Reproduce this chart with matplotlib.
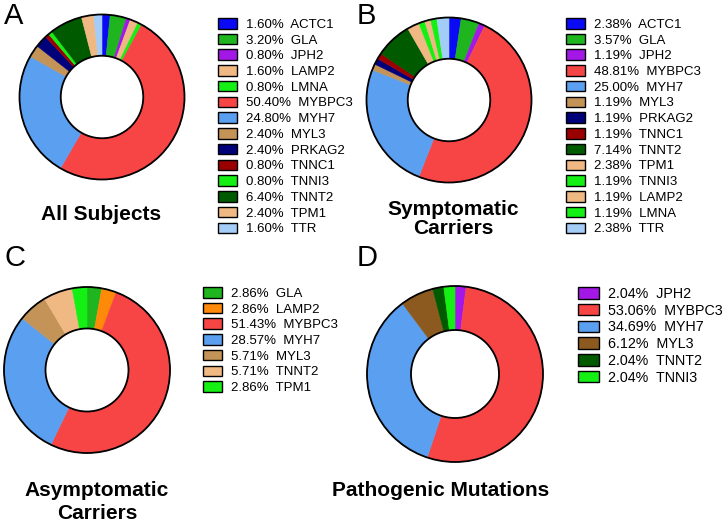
import matplotlib
matplotlib.use('Agg')
import matplotlib.pyplot as plt
from matplotlib.patches import Circle, Patch

plt.rcParams['font.family'] = ['Liberation Sans', 'DejaVu Sans']

W, H = 726, 524

# colours per gene
geneColor = {
    'ACTC1': '#0a0af5',
    'GLA': '#1fb51f',
    'JPH2': '#a318e6',
    'LAMP2': '#f0b882',
    'LMNA': '#14f014',
    'MYBPC3': '#f74545',
    'MYH7': '#5a9ff0',
    'MYL3': '#c49358',
    'PRKAG2': '#00007a',
    'TNNC1': '#9a0000',
    'TNNI3': '#14f014',
    'TNNT2': '#005a00',
    'TPM1': '#f0b882',
    'TTR': '#a3cdf7',
}

genesA = ['ACTC1', 'GLA', 'JPH2', 'LAMP2', 'LMNA', 'MYBPC3', 'MYH7', 'MYL3',
          'PRKAG2', 'TNNC1', 'TNNI3', 'TNNT2', 'TPM1', 'TTR']
valsA = [1.60, 3.20, 0.80, 1.60, 0.80, 50.40, 24.80, 2.40, 2.40, 0.80, 0.80, 6.40, 2.40, 1.60]

genesB = ['ACTC1', 'GLA', 'JPH2', 'MYBPC3', 'MYH7', 'MYL3', 'PRKAG2', 'TNNC1',
          'TNNT2', 'TPM1', 'TNNI3', 'LAMP2', 'LMNA', 'TTR']
valsB = [2.38, 3.57, 1.19, 48.81, 25.00, 1.19, 1.19, 1.19, 7.14, 2.38, 1.19, 1.19, 1.19, 2.38]

genesC = ['GLA', 'LAMP2', 'MYBPC3', 'MYH7', 'MYL3', 'TNNT2', 'TPM1']
valsC = [2.86, 2.86, 51.43, 28.57, 5.71, 5.71, 2.86]
colorsC = ['#1fb51f', '#ff8a0a', '#f74545', '#5a9ff0', '#c49358', '#f0b882', '#14f014']

genesD = ['JPH2', 'MYBPC3', 'MYH7', 'MYL3', 'TNNT2', 'TNNI3']
valsD = [2.04, 53.06, 34.69, 6.12, 2.04, 2.04]
colorsD = ['#a318e6', '#f74545', '#5a9ff0', '#8c5a1e', '#005a00', '#14f014']

fig = plt.figure(figsize=(W / 100, H / 100), dpi=100)


def Donut(cx, cy, r, values, colors):
    ax = fig.add_axes([(cx - r) / W, (H - cy - r) / H, 2 * r / W, 2 * r / H])
    wedges, _ = ax.pie(values, colors=colors, startangle=90, counterclock=False,
                       radius=1, wedgeprops=dict(width=0.5, linewidth=0.4))
    for w in wedges:
        w.set_edgecolor(w.get_facecolor())
    ax.add_patch(Circle((0, 0), 1, fill=False, ec='black', lw=1.3, clip_on=False))
    ax.add_patch(Circle((0, 0), 0.5, fill=False, ec='black', lw=1.3, clip_on=False))
    ax.set_xlim(-1, 1)
    ax.set_ylim(-1, 1)
    ax.set_aspect('equal')
    ax.axis('off')
    return ax


def Legend(x, y, genes, values, colors, fs=9.5, spacing=0.22):
    handles = [Patch(facecolor=c, edgecolor='black', linewidth=1) for c in colors]
    labels = ['{:.2f}%  {}'.format(v, g) for v, g in zip(values, genes)]
    fig.legend(handles, labels, loc='upper left', bbox_to_anchor=(x / W, 1 - y / H),
               frameon=False, fontsize=fs, borderpad=0, borderaxespad=0,
               handlelength=1.45, handleheight=0.85, handletextpad=0.65,
               labelspacing=spacing)


Donut(102, 97, 82.5, valsA, [geneColor[g] for g in genesA])
Legend(218, 18, genesA, valsA, [geneColor[g] for g in genesA])

Donut(449, 100, 82.5, valsB, [geneColor[g] for g in genesB])
Legend(566, 18, genesB, valsB, [geneColor[g] for g in genesB])

Donut(87, 370, 83, valsC, colorsC)
Legend(203, 287, genesC, valsC, colorsC)

Donut(455, 374, 88, valsD, colorsD)
Legend(578, 287, genesD, valsD, colorsD, fs=10.3, spacing=0.19)

# panel letters
for lab, x, y in [('A', 4, 16), ('B', 357, 16), ('C', 4, 258), ('D', 357, 258)]:
    fig.text(x / W, 1 - y / H, lab, fontsize=21, va='center', ha='left')

# titles
fig.text(101 / W, 1 - 215 / H, 'All Subjects', fontsize=15, fontweight='bold',
         ha='center', va='center')
fig.text(453 / W, 1 - 219 / H, 'Symptomatic\nCarriers', fontsize=15, fontweight='bold',
         ha='center', va='center', linespacing=1.05)
fig.text(97 / W, 1 - 502 / H, 'Asymptomatic\nCarriers', fontsize=15, fontweight='bold',
         ha='center', va='center', linespacing=1.3)
fig.text(441 / W, 1 - 491 / H, 'Pathogenic Mutations', fontsize=15, fontweight='bold',
         ha='center', va='center')

fig.savefig('out.png', dpi=100)
